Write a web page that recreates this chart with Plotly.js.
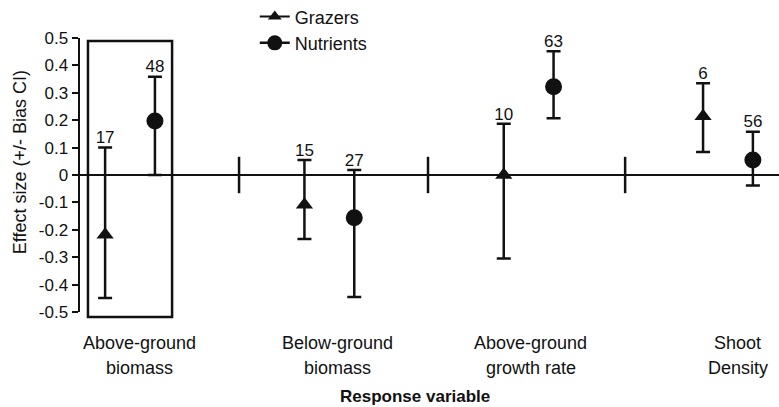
<!DOCTYPE html>
<html>
<head>
<meta charset="utf-8">
<script src="https://cdn.plot.ly/plotly-3.0.1.min.js"></script>
<style>html,body{margin:0;padding:0;background:#fff;}#chart{width:779px;height:407px;}</style>
</head>
<body>
<div id="chart"></div>
<script>
// ---- data ----
var categories = ["Above-ground<br>biomass", "Below-ground<br>biomass", "Above-ground<br>growth rate", "Shoot<br>Density"];
var groupPos = [1, 2, 3, 4];
var labelPos = [1.05, 2.04, 3.01, 4.05];
var separatorPos = [1.547, 2.495, 3.484];
var seriesNames = ["Grazers", "Nutrients"];
var grazersMean  = [-0.218, -0.109, 0.0, 0.214];
var grazersUpper = [0.10, 0.055, 0.187, 0.335];
var grazersLower = [-0.449, -0.234, -0.305, 0.084];
var grazersN     = ["17", "15", "10", "6"];
var nutrientsMean  = [0.197, -0.156, 0.322, 0.055];
var nutrientsUpper = [0.359, 0.018, 0.452, 0.158];
var nutrientsLower = [0.0, -0.445, 0.207, -0.038];
var nutrientsN     = ["48", "27", "63", "56"];
var yTickVals = [0.5, 0.4, 0.3, 0.2, 0.1, 0, -0.1, -0.2, -0.3, -0.4, -0.5];
var yTitle = "Effect size (+/- Bias CI)";
var xTitle = "Response variable";

// ---- styling ----
var ink = "#111";
var FONT = "Liberation Sans, Arial, sans-serif";
var offset = 0.125;

function diff(a, b) { return a.map(function (v, i) { return v - b[i]; }); }

var gx = groupPos.map(function (p) { return p - offset; });
var nx = groupPos.map(function (p) { return p + offset; });

var traces = [
  {
    type: "scatter", mode: "markers", name: seriesNames[0], showlegend: false,
    x: gx, y: grazersMean,
    marker: { symbol: "triangle-up", size: 15, color: ink },
    error_y: { type: "data", symmetric: false,
      array: diff(grazersUpper, grazersMean), arrayminus: diff(grazersMean, grazersLower),
      color: ink, thickness: 2.5, width: 7 },
    hoverinfo: "skip"
  },
  {
    type: "scatter", mode: "markers", name: seriesNames[1], showlegend: false,
    x: nx, y: nutrientsMean,
    marker: { symbol: "circle", size: 17, color: ink },
    error_y: { type: "data", symmetric: false,
      array: diff(nutrientsUpper, nutrientsMean), arrayminus: diff(nutrientsMean, nutrientsLower),
      color: ink, thickness: 2.5, width: 7 },
    hoverinfo: "skip"
  },
  // legend keys (line + marker), no data drawn
  { type: "scatter", mode: "lines+markers", name: seriesNames[0], x: [null], y: [null],
    line: { color: ink, width: 2 }, marker: { symbol: "triangle-up", size: 12, color: ink } },
  { type: "scatter", mode: "lines+markers", name: seriesNames[1], x: [null], y: [null],
    line: { color: ink, width: 2.5 }, marker: { symbol: "circle", size: 15, color: ink } },
  {
    type: "scatter", mode: "text", showlegend: false,
    x: gx.concat(nx), y: grazersUpper.concat(nutrientsUpper),
    text: grazersN.concat(nutrientsN), textposition: "top center",
    textfont: { family: FONT, size: 17, color: ink }, cliponaxis: false, hoverinfo: "skip"
  },
  {
    type: "scatter", mode: "markers", showlegend: false,
    x: separatorPos, y: separatorPos.map(function () { return 0; }),
    marker: { symbol: "line-ns", size: 26, color: ink, line: { width: 2.5, color: ink } },
    hoverinfo: "skip", cliponaxis: false
  }
];

var annotations = [];
categories.forEach(function (c, i) {
  var lines = c.split("<br>");
  lines.forEach(function (ln, j) {
    annotations.push({
      xref: "x", yref: "paper", x: labelPos[i], y: j === 0 ? -0.113 : -0.204,
      text: ln, showarrow: false, xanchor: "center", yanchor: "middle",
      font: { family: FONT, size: 18, color: ink }
    });
  });
});
annotations.push({
  xref: "paper", yref: "paper", x: 0.479, y: -0.31, text: "<b>" + xTitle + "</b>", showarrow: false,
  xanchor: "center", yanchor: "middle", font: { family: FONT, size: 17, color: ink }
});
annotations.push({
  xref: "paper", yref: "paper", x: -0.0858, y: 0.547, text: yTitle, showarrow: false,
  textangle: -90, xanchor: "center", yanchor: "middle", font: { family: FONT, size: 18, color: ink }
});

var layout = {
  width: 779, height: 407,
  margin: { l: 80, r: 0, t: 38, b: 95, pad: 0, autoexpand: false },
  paper_bgcolor: "#fff", plot_bgcolor: "#fff",
  font: { family: FONT, size: 16, color: ink },
  showlegend: true,
  legend: { x: 0.25, y: 1.145, xanchor: "left", yanchor: "top",
    font: { family: FONT, size: 18, color: ink }, bgcolor: "rgba(0,0,0,0)" },
  xaxis: { range: [0.749, 4.256], showline: false, showgrid: false, zeroline: false,
    showticklabels: false, ticks: "" },
  yaxis: { range: [-0.5, 0.5], showline: true, linewidth: 2.5, linecolor: ink,
    ticks: "outside", ticklen: 6, tickwidth: 2, tickcolor: ink,
    tickvals: yTickVals,
    ticktext: yTickVals.map(function (v) { return v === 0 ? "0" : v.toFixed(1); }),
    tickfont: { family: FONT, size: 17, color: ink },
    showgrid: false, zeroline: true, zerolinewidth: 2.5, zerolinecolor: ink },
  shapes: [
    { type: "rect", xref: "x", yref: "paper", x0: 0.789, x1: 1.211, y0: -0.018, y1: 0.989,
      line: { color: ink, width: 2.5 }, fillcolor: "rgba(0,0,0,0)" }
  ],
  annotations: annotations
};

Plotly.newPlot("chart", traces, layout, { displayModeBar: false, staticPlot: true });
</script>
</body>
</html>
